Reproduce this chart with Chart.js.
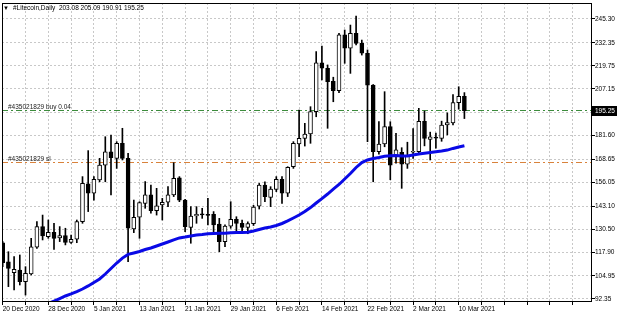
<!DOCTYPE html>
<html>
<head>
<meta charset="utf-8">
<script src="https://cdn.jsdelivr.net/npm/chart.js@4.4.1/dist/chart.umd.min.js"></script>
<style>
  html, body { margin: 0; padding: 0; background: #fff; }
</style>
</head>
<body>
<canvas id="chart" width="620" height="314"></canvas>
<script>
// header and trade levels
const titleText = '#Litecoin,Daily  203.08 205.09 190.91 195.25';
const buyLevel = 195.4;
const buyLabel = '#435021829 buy 0.04';
const slLevel = 167.2;
const slLabel = '#435021829 sl';

// x ticks every 4 bars, labels every 8 (bar 0 = 20 Dec 2020)
const xTickPos = [0, 4, 8, 12, 16, 20, 24, 28, 32, 36, 40, 44, 48, 52, 56, 60, 64, 68, 72, 76, 80, 84, 88, 92, 96, 100];
const xTickLabels = ['20 Dec 2020', '', '28 Dec 2020', '', '5 Jan 2021', '', '13 Jan 2021', '', '21 Jan 2021', '',
  '29 Jan 2021', '', '6 Feb 2021', '', '14 Feb 2021', '', '22 Feb 2021', '', '2 Mar 2021', '', '10 Mar 2021', '', '', '', '', ''];

const yTicks = [92.35, 104.95, 117.90, 130.50, 143.10, 156.05, 168.65, 181.60, 194.20, 207.15, 219.75, 232.35, 245.30];
const yTickLabels = ['92.35', '104.95', '117.90', '130.50', '143.10', '156.05', '168.65', '181.60', '', '207.15', '219.75', '232.35', '245.30'];

// daily candles
const opens = [123.1, 112.7, 106.7, 108.2, 101.8, 106.0, 120.6, 131.9, 126.4, 128.8,
  125.7, 127.0, 123.3, 125.0, 134.6, 155.2, 150.1, 157.4, 165.5, 172.8,
  169.2, 177.4, 169.2, 130.6, 137.0, 144.6, 149.2, 140.6, 143.7, 145.2,
  149.2, 158.6, 146.4, 131.5, 137.7, 138.7, 138.3, 138.6, 133.3, 123.7,
  132.2, 135.9, 133.7, 131.5, 133.5, 143.0, 154.6, 147.9, 152.2, 157.7,
  150.1, 164.6, 177.0, 180.1, 182.5, 194.7, 221.4, 218.4, 211.2, 206.1,
  236.6, 229.3, 237.5, 232.0, 226.6, 209.2, 172.8, 177.0, 186.5, 170.1,
  172.5, 166.0, 172.5, 172.8, 189.4, 179.5, 180.5, 180.1, 187.4, 188.5,
  199.6, 203.08];
const highs = [123.7, 118.2, 115.5, 116.4, 110.0, 125.5, 134.6, 138.2, 135.5, 133.7,
  131.9, 131.0, 127.3, 135.5, 159.2, 173.4, 159.2, 169.2, 181.0, 181.9,
  178.3, 185.6, 171.9, 146.4, 145.5, 156.5, 154.6, 152.8, 147.3, 153.7,
  166.8, 159.2, 146.8, 142.8, 142.8, 141.9, 147.3, 140.1, 136.4, 132.8,
  145.5, 137.3, 135.5, 134.5, 143.5, 155.5, 156.4, 153.7, 159.2, 159.2,
  164.6, 178.3, 195.6, 188.3, 197.4, 227.5, 230.5, 220.2, 213.5, 237.5,
  239.3, 242.0, 246.9, 233.8, 228.4, 209.5, 189.2, 205.6, 189.2, 182.9,
  175.0, 178.0, 185.5, 196.5, 195.0, 183.5, 183.0, 189.5, 194.0, 204.0,
  208.3, 205.09];
const lows = [110.0, 99.1, 97.3, 100.0, 94.5, 105.5, 120.0, 124.6, 125.5, 119.5,
  123.7, 121.9, 122.7, 123.1, 133.7, 140.1, 146.4, 156.4, 156.4, 149.2,
  163.7, 168.3, 112.8, 128.6, 125.5, 141.9, 139.2, 138.2, 135.5, 142.8,
  148.3, 145.5, 129.1, 122.8, 133.7, 136.4, 132.8, 128.2, 118.2, 120.9,
  131.0, 129.1, 129.5, 128.0, 132.5, 141.5, 145.5, 142.8, 151.0, 144.6,
  148.3, 163.7, 170.1, 175.9, 177.4, 191.9, 212.0, 185.6, 200.1, 205.0,
  221.1, 215.6, 231.1, 225.6, 178.3, 156.4, 171.5, 175.5, 157.5, 166.5,
  152.8, 163.7, 169.2, 171.5, 176.0, 168.3, 174.7, 178.5, 182.0, 187.5,
  196.0, 190.91];
const closes = [112.2, 109.1, 108.6, 101.8, 106.4, 120.9, 131.9, 126.8, 128.8, 125.5,
  127.0, 123.3, 125.0, 134.6, 155.5, 150.1, 157.7, 165.5, 172.8, 169.5,
  177.4, 169.2, 131.0, 137.0, 145.0, 149.2, 140.6, 143.2, 145.2, 149.2,
  158.3, 146.4, 131.9, 137.7, 138.6, 138.3, 138.0, 132.8, 123.7, 132.2,
  135.9, 133.7, 131.5, 133.5, 142.5, 154.6, 148.3, 152.4, 157.7, 150.1,
  164.3, 177.4, 180.1, 182.5, 194.7, 221.4, 218.4, 211.1, 206.1, 236.6,
  229.3, 237.5, 232.0, 226.6, 209.2, 172.8, 177.0, 186.5, 165.5, 173.8,
  166.0, 170.5, 173.0, 189.4, 180.0, 181.0, 180.2, 187.4, 188.7, 199.6,
  203.1, 195.25];

// moving average (null = not drawn)
const maValues = [null, null, null, null, null, null, null, null, 89.9, 91.2,
  92.6, 94.0, 95.1, 96.4, 97.8, 99.5, 101.4, 103.3, 106.0, 109.0,
  112.0, 114.7, 116.7, 117.5, 118.3, 119.4, 120.2, 121.3, 122.4, 123.5,
  124.6, 125.7, 126.2, 126.8, 127.3, 127.6, 128.0, 128.1, 128.2, 128.3,
  128.5, 128.7, 128.7, 128.8, 129.5, 130.3, 131.1, 131.7, 132.5, 133.6,
  135.0, 136.6, 138.2, 140.1, 142.3, 144.8, 147.2, 149.7, 152.4, 154.9,
  157.9, 160.9, 164.2, 166.9, 168.3, 169.1, 169.6, 170.3, 170.6, 170.7,
  170.5, 170.5, 171.0, 171.6, 172.0, 172.4, 172.8, 173.2, 173.7, 174.6,
  175.4, 176.1];

const FONT = '"Liberation Sans", Arial, sans-serif';

const bodies = opens.map((o, i) => ({ x: i, y: [Math.min(o, closes[i]), Math.max(o, closes[i])] }));
const bodyColors = opens.map((o, i) => closes[i] >= o ? '#ffffff' : '#000000');
const wicks = lows.map((l, i) => ({ x: i, y: [l, highs[i]] }));
const maPoints = [];
maValues.forEach((v, i) => { if (v !== null) maPoints.push({ x: i, y: v }); });

function drawLevel(ctx, a, y, color, text) {
  const py = Math.round(y) + 0.5;
  ctx.save();
  ctx.strokeStyle = color;
  ctx.lineWidth = 1;
  ctx.setLineDash([6, 3, 2, 3]);
  ctx.beginPath();
  ctx.moveTo(a.left, py);
  ctx.lineTo(a.right, py);
  ctx.stroke();
  ctx.setLineDash([]);
  ctx.fillStyle = '#222';
  ctx.font = '6.5px ' + FONT;
  ctx.textBaseline = 'bottom';
  ctx.fillText(text, 8, py - 0.5);
  ctx.restore();
}

const overlay = {
  id: 'overlay',
  beforeDatasetsDraw(chart) {
    const { ctx, chartArea: a, scales: { y } } = chart;
    drawLevel(ctx, a, y.getPixelForValue(buyLevel), '#3c8c3c', buyLabel);
    drawLevel(ctx, a, y.getPixelForValue(slLevel), '#d9823b', slLabel);
  },
  afterDraw(chart) {
    const { ctx, chartArea: a, scales: { y } } = chart;
    ctx.save();
    // frame
    ctx.strokeStyle = '#000';
    ctx.lineWidth = 1;
    ctx.strokeRect(a.left + 0.5, a.top + 0.5, a.right - a.left - 1, a.bottom - a.top - 1);
    // header
    ctx.fillStyle = '#000';
    ctx.font = '6px ' + FONT;
    ctx.textBaseline = 'middle';
    ctx.fillText('▼', 3, 8);
    ctx.font = '6.5px ' + FONT;
    ctx.fillText(titleText, 13, 8);
    // last price box
    const last = closes[closes.length - 1];
    const py = Math.round(y.getPixelForValue(last));
    ctx.fillRect(a.right, py - 5, 25, 10);
    ctx.fillStyle = '#fff';
    ctx.fillText(last.toFixed(2), a.right + 3, py + 0.5);
    ctx.restore();
  }
};

new Chart(document.getElementById('chart'), {
  type: 'bar',
  data: {
    datasets: [
      {
        type: 'line',
        data: maPoints,
        borderColor: '#0a0ae6',
        borderWidth: 3,
        pointRadius: 0,
        tension: 0,
        order: 0
      },
      {
        data: bodies,
        backgroundColor: bodyColors,
        borderColor: '#000',
        borderWidth: 1,
        borderSkipped: false,
        barThickness: 4,
        minBarLength: 1,
        grouped: false,
        order: 1
      },
      {
        data: wicks,
        backgroundColor: '#000',
        barThickness: 1,
        grouped: false,
        order: 2
      }
    ]
  },
  options: {
    responsive: false,
    animation: false,
    layout: { padding: { left: 2, top: 3, right: 0, bottom: 0 } },
    plugins: { legend: { display: false }, tooltip: { enabled: false } },
    scales: {
      x: {
        type: 'linear',
        min: -0.123,
        max: 103.386,
        offset: false,
        afterBuildTicks: s => { s.ticks = xTickPos.map(v => ({ value: v })); },
        afterFit: s => { s.height = 12; s.paddingLeft = 0; s.paddingRight = 0; },
        ticks: {
          autoSkip: false,
          maxRotation: 0,
          align: 'start',
          padding: 0,
          color: '#000',
          font: { family: FONT, size: 6.5 },
          callback: (v, i) => xTickLabels[i]
        },
        grid: { offset: false, color: '#c8c8c8', tickLength: 3, tickColor: '#000', tickBorderDash: [] },
        border: { display: false, dash: [2, 2] }
      },
      y: {
        position: 'right',
        min: 90.71,
        max: 254.04,
        afterBuildTicks: s => { s.ticks = yTicks.map(v => ({ value: v })); },
        afterFit: s => { s.width = 28; s.paddingTop = 0; s.paddingBottom = 0; },
        ticks: {
          padding: 0,
          color: '#000',
          font: { family: FONT, size: 6.5 },
          callback: (v, i) => yTickLabels[i]
        },
        grid: { color: '#c8c8c8', tickLength: 3, tickColor: '#000', tickBorderDash: [] },
        border: { display: false, dash: [2, 2] }
      }
    }
  },
  plugins: [overlay]
});
</script>
</body>
</html>
